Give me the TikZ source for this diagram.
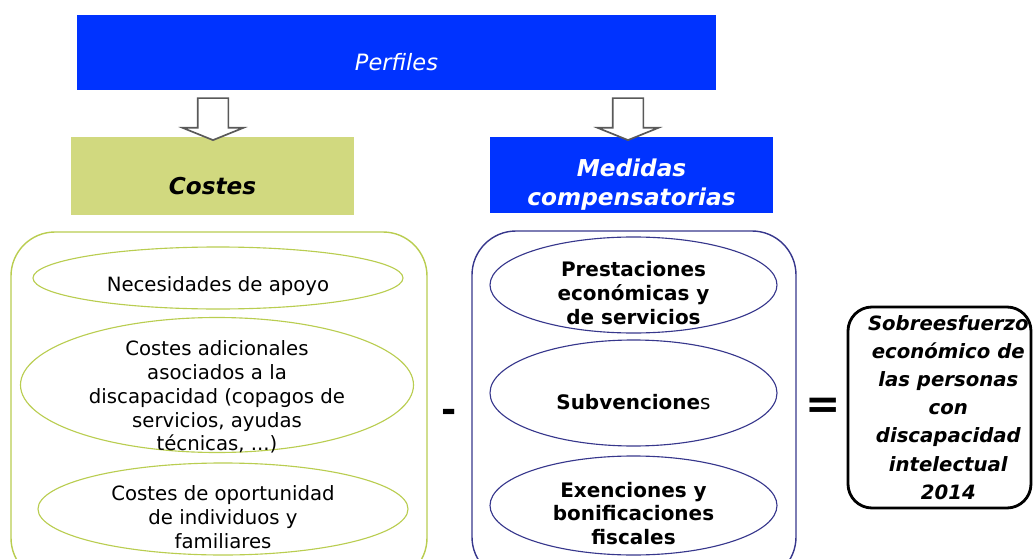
\documentclass[tikz,border=0pt]{standalone}
\usepackage{fontspec}
\setmainfont{DejaVu Sans}
\usetikzlibrary{shapes,arrows,positioning}
\definecolor{perfblue}{RGB}{0,51,255}
\definecolor{olivefill}{RGB}{209,217,127}
\definecolor{oliveline}{RGB}{185,205,80}
\definecolor{navyline}{RGB}{55,55,140}
\newcommand{\pu}{0.025cm}

\begin{document}
\begin{tikzpicture}[x=0.025cm,y=-0.025cm,
header/.style={
% The shape:
rectangle, inner sep=0pt,
% The size:
minimum width=283*\pu
},
htext/.style={
align=center, font=\fontsize{16.5}{20.5}\selectfont\bfseries\itshape
},
downarrow/.style={
% The shape:
single arrow, shape border rotate=270,
single arrow head extend=15*\pu, single arrow tip angle=136,
% The size:
inner sep=14.5*\pu, minimum height=42*\pu,
% The border:
draw=black!65, line width=1.2pt, fill=white
},
container/.style={
% The shape:
rectangle, rounded corners=1.1cm,
% The border:
line width=1pt
},
bubble/.style={
% The shape:
ellipse, inner sep=0pt,
% The border:
line width=0.8pt
},
ltext/.style={
align=center, font=\fontsize{14}{17}\selectfont
},
rtext/.style={
align=center, font=\fontsize{14.2}{16.8}\selectfont\bfseries
},
result/.style={
% The shape:
rectangle, rounded corners=0.6cm,
% The border:
line width=2pt, draw=black
},
restext/.style={
align=center, font=\fontsize{14}{20}\selectfont\bfseries\itshape
}]
\useasboundingbox (0,0) rectangle (1035,559);

% cabeceras
\node (perf) [header, fill=perfblue, minimum width=639*\pu, minimum height=75*\pu,
  label={[text=white, font=\fontsize{16}{19}\selectfont\itshape, yshift=-0.24cm]center:Perfiles}] at (396.5,52.5) {};
\node (costes) [header, fill=olivefill, minimum height=78*\pu,
  label={[htext, yshift=-0.25cm]center:Costes}] at (212.5,176) {};
\node (medidas) [header, fill=perfblue, minimum height=76*\pu,
  label={[htext, text=white, yshift=-0.24cm]center:Medidas\\compensatorias}] at (631.5,175) {};

\node (arrl) [downarrow] at (213,116) {};
\node (arrr) [downarrow] at (628,116) {};

% contenedores
\node (cbox) [container, draw=oliveline, minimum width=416*\pu, minimum height=350*\pu] at (219,407) {};
\node (mbox) [container, draw=navyline, minimum width=324*\pu, minimum height=350*\pu] at (634,406) {};

\node (apoyo) [bubble, draw=oliveline, minimum width=370*\pu, minimum height=62*\pu,
  label={[ltext, yshift=-0.2cm]center:Necesidades de apoyo}] at (218,278) {};
\node (adic) [bubble, draw=oliveline, minimum width=393*\pu, minimum height=135*\pu,
  label={[ltext, yshift=-0.3cm]center:Costes adicionales\\asociados a la\\discapacidad (copagos de\\servicios, ayudas\\técnicas, ...)}] at (217,385) {};
\node (oport) [bubble, draw=oliveline, minimum width=370*\pu, minimum height=92*\pu,
  label={[ltext, yshift=-0.2cm]center:Costes de oportunidad\\de individuos y\\familiares}] at (223,509) {};

\node (prest) [bubble, draw=navyline, minimum width=287*\pu, minimum height=96*\pu,
  label={[rtext, yshift=-0.2cm]center:Prestaciones\\económicas y\\de servicios}] at (633.5,285) {};
\node (subv) [bubble, draw=navyline, minimum width=287*\pu, minimum height=106*\pu,
  label={[rtext, yshift=-0.22cm]center:Subvencione{\mdseries s}}] at (633.5,393) {};
\node (exen) [bubble, draw=navyline, minimum width=287*\pu, minimum height=99*\pu,
  label={[rtext, yshift=-0.2cm]center:Exenciones y\\bonificaciones\\fiscales}] at (633.5,505.5) {};

% operadores y resultado
\node (menos) [font=\fontsize{26}{26}\selectfont\bfseries] at (449,416) {-};
\node (igual) [font=\fontsize{30}{30}\selectfont\bfseries] at (823,408) {=};
\node (sobre) [result, minimum width=183*\pu, minimum height=201*\pu,
  label={[restext, xshift=0.22cm]center:Sobreesfuerzo\\económico de\\las personas\\con\\discapacidad\\intelectual\\2014}] at (939.5,407.5) {};
\end{tikzpicture}
\end{document}
